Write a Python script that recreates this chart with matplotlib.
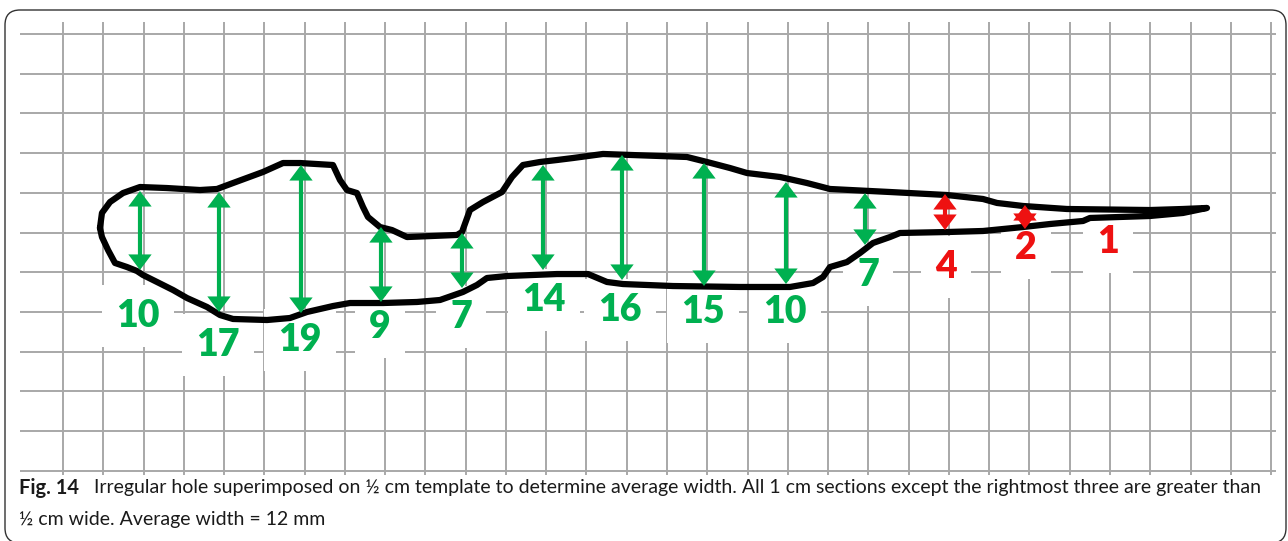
import matplotlib.pyplot as plt
from matplotlib.patches import FancyBboxPatch

# template: 1/2 cm squares, all coordinates in mm (y measured downwards)
grid_x = list(range(0, 151, 5))
grid_y = list(range(0, 56, 5))

# traced outline of the hole, clockwise from the left end
outline_x = [4.59, 4.84, 5.84, 7.45, 9.56, 12.91, 17.01, 19.12, 21.11, 24.83, 27.32, 29.43,
             33.52, 34.39, 35.26, 36.50, 37.25, 37.87, 39.36, 40.85, 42.71, 48.92, 49.54,
             50.53, 52.15, 54.51, 55.75, 57.11, 59.22, 61.34, 63.32, 67.05, 77.48, 79.96,
             82.82, 84.93, 89.03, 92.38, 95.23, 102.68, 109.76, 114.23, 115.97, 119.20,
             124.66, 134.96, 139.06, 142.04,
             139.06, 134.96, 127.51, 126.65, 122.55, 119.20, 114.23, 109.76, 103.92, 102.68,
             100.57, 98.96, 97.34, 95.23, 94.37, 93.13, 90.27, 84.06, 75.74, 69.53, 67.54,
             65.19, 61.34, 55.13, 52.64, 51.40, 49.66, 46.81, 43.95, 39.73, 35.63, 33.52,
             30.30, 28.18, 25.33, 21.11, 19.49, 17.88, 15.40, 13.66, 11.67, 9.93, 9.19,
             7.95, 6.46, 5.59, 4.84, 4.59]
outline_y = [24.43, 22.54, 21.16, 20.03, 19.27, 19.40, 19.65, 19.52, 18.77, 17.38, 16.25, 16.25,
             16.50, 18.39, 19.65, 20.03, 21.79, 23.05, 24.31, 24.69, 25.57, 25.31, 24.94,
             22.17, 21.16, 19.90, 18.01, 16.50, 16.12, 15.87, 15.62, 15.11, 15.49, 16.12,
             16.88, 17.51, 18.01, 18.77, 19.52, 19.90, 20.28, 20.78, 21.28, 21.66,
             22.04, 22.17, 22.04, 21.91,
             22.54, 22.92, 23.17, 23.55, 23.93, 24.31, 24.81, 24.94, 25.06, 25.57,
             26.32, 27.58, 28.72, 29.35, 30.60, 31.36, 31.86, 31.86, 31.74, 31.49, 31.23,
             30.23, 30.23, 30.48, 30.73, 31.61, 32.49, 33.50, 33.75, 33.88, 33.88, 34.26,
             35.01, 35.77, 36.02, 35.89, 35.39, 34.38, 33.25, 32.24, 31.23, 30.35, 29.85,
             29.35, 28.84, 27.20, 25.57, 24.43]

# width arrows, one every cm
arrow_x = [9.56, 19.37, 29.55, 39.48, 49.54, 59.60, 69.41, 79.59, 89.77, 99.58, 109.51, 119.44]
arrow_top = [19.77, 19.90, 16.50, 24.31, 25.06, 16.50, 15.24, 16.25, 18.64, 20.03, 20.15, 21.54]
arrow_bottom = [29.72, 35.01, 35.14, 33.75, 31.99, 29.72, 30.98, 31.74, 31.49, 26.57, 24.69, 24.56]

# width labels (mm)
widths = ['10', '17', '19', '9', '7', '14', '16', '15', '10', '7', '4', '2', '1']
label_x = [9.31, 19.25, 29.43, 39.36, 49.42, 59.72, 69.16, 79.46, 89.65, 99.95, 109.64, 119.57, 129.75]
label_y = [35.52, 39.17, 38.54, 36.90, 35.64, 33.50, 34.76, 35.01, 35.01, 30.35, 29.35, 26.95, 26.20]
n_wide = 10  # sections wider than 1/2 cm

GREEN = '#00b050'
RED = '#ee1111'

fig = plt.figure(figsize=(12.88, 5.41), dpi=100)
ax = fig.add_axes([0, 0, 1, 1])
ax.set_xlim(-7.82, 152.1)
ax.set_ylim(63.85, -4.28)
ax.axis('off')

ax.vlines(grid_x, -1.5, 55.5, color='#a8a8a8', lw=1.4, zorder=1)
ax.hlines(grid_y, -5.34, 150.6, color='#a8a8a8', lw=1.4, zorder=1)

for i, (x, y, s) in enumerate(zip(label_x, label_y, widths)):
    c = GREEN if i < n_wide else RED
    ax.text(x, y, s, color=c, fontsize=27, fontweight='heavy', family='Lato',
            ha='center', va='center', zorder=2,
            bbox=dict(facecolor='white', edgecolor='none', pad=10))

ax.plot(outline_x, outline_y, color='black', lw=4.5, solid_joinstyle='round',
        solid_capstyle='round', zorder=4)

for i, (x, t, b) in enumerate(zip(arrow_x, arrow_top, arrow_bottom)):
    c = GREEN if i < n_wide else RED
    # shaft, kept short of the tips so the heads stay pointed
    ax.plot([x, x], [t + 1, b - 1], color=c, lw=3, solid_capstyle='butt', zorder=5)
    ax.annotate('', xy=(x, b), xytext=(x, t), zorder=5,
                arrowprops=dict(arrowstyle='<|-|>,head_length=0.8,head_width=0.6',
                                facecolor=c, edgecolor='none', lw=0, shrinkA=0, shrinkB=0,
                                mutation_scale=14))

# caption
fig.text(19 / 1288, 1 - 488 / 541, 'Fig. 14', family='Lato', fontweight='bold',
         fontsize=14.5, va='center', color='#1a1a1a')
fig.text(94 / 1288, 1 - 488 / 541,
         'Irregular hole superimposed on \u00bd cm template to determine average width. '
         'All 1 cm sections except the rightmost three are greater than',
         family='Lato', fontsize=14, va='center', color='#1a1a1a')
fig.text(19 / 1288, 1 - 520 / 541, '\u00bd cm wide. Average width = 12 mm',
         family='Lato', fontsize=14, va='center', color='#1a1a1a')

# frame around the figure
frame = FancyBboxPatch((0.05, -0.02), 12.81, 5.33, boxstyle='round,pad=0,rounding_size=0.15',
                       transform=fig.dpi_scale_trans, facecolor='none', edgecolor='#333333', lw=1.0)
fig.patches.append(frame)

fig.savefig('out.png', dpi=100)
